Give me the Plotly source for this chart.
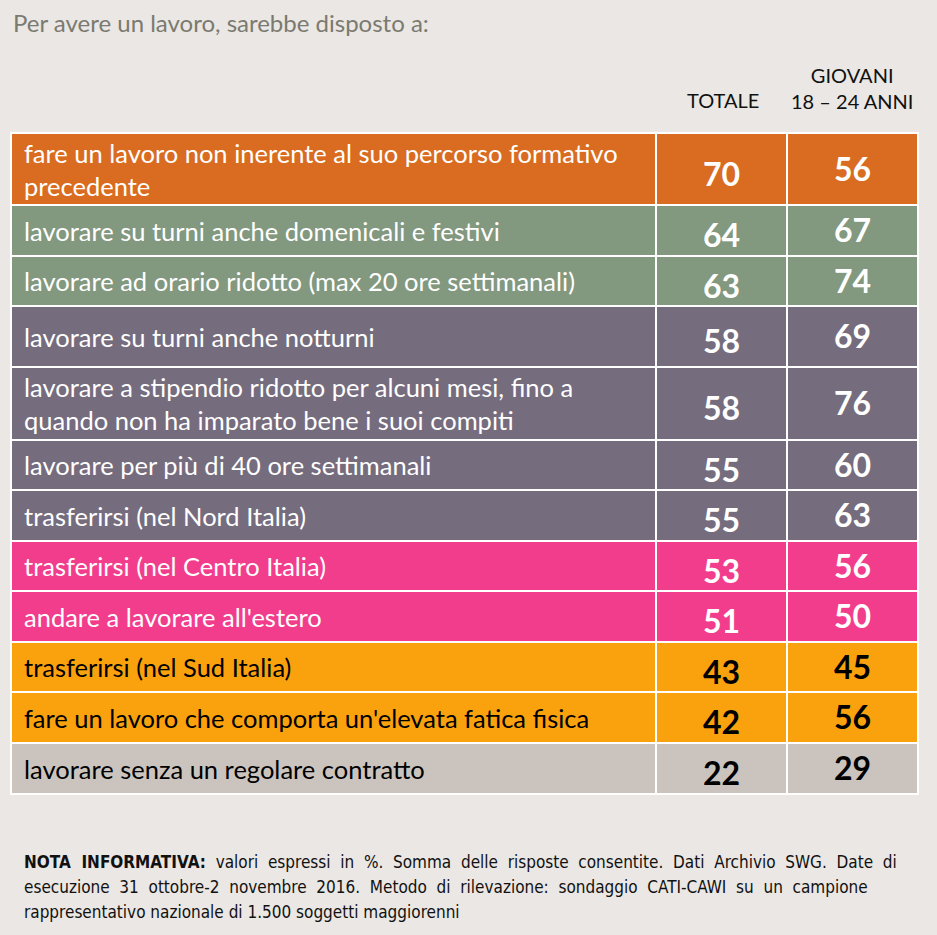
import plotly.graph_objects as go
import numpy as np

# ---- data ----
items = [
    "fare un lavoro non inerente al suo percorso formativo<br>precedente",
    "lavorare su turni anche domenicali e festivi",
    "lavorare ad orario ridotto (max 20 ore settimanali)",
    "lavorare su turni anche notturni",
    "lavorare a stipendio ridotto per alcuni mesi, fino a<br>quando non ha imparato bene i suoi compiti",
    "lavorare per più di 40 ore settimanali",
    "trasferirsi (nel Nord Italia)",
    "trasferirsi (nel Centro Italia)",
    "andare a lavorare all'estero",
    "trasferirsi (nel Sud Italia)",
    "fare un lavoro che comporta un'elevata fatica fisica",
    "lavorare senza un regolare contratto",
]
totale = [70, 64, 63, 58, 58, 55, 55, 53, 51, 43, 42, 22]
giovani = [56, 67, 74, 69, 76, 60, 63, 56, 50, 45, 56, 29]
groups = ["a", "b", "b", "c", "c", "c", "c", "d", "d", "e", "e", "f"]

# ---- styling ----
group_color = {"a": "#D96C20", "b": "#82987F", "c": "#756C7E",
               "d": "#F23C8C", "e": "#F9A20E", "f": "#CBC4BE"}
group_text = {"a": "white", "b": "white", "c": "white",
              "d": "white", "e": "black", "f": "black"}
row_heights = [72, 51, 50, 61, 73, 50, 51, 50, 51, 50, 51, 51]
table_top = 133
col_edges = [11, 656, 787, 918]
BG = "#EAE7E4"
FONT = "Lato"

tops = table_top + np.concatenate([[0], np.cumsum(row_heights)[:-1]])
centers_y = tops + np.array(row_heights) / 2
colors = [group_color[g] for g in groups]
tcolors = [group_text[g] for g in groups]

fig = go.Figure()
for c in range(3):
    x0, x1 = col_edges[c], col_edges[c + 1]
    fig.add_trace(go.Bar(
        x=[(x0 + x1) / 2] * len(items), width=[x1 - x0] * len(items),
        base=list(tops), y=row_heights,
        marker=dict(color=colors, line=dict(color="white", width=2)),
        hoverinfo="skip", showlegend=False))

for i in range(len(items)):
    fig.add_annotation(x=22, y=centers_y[i], text=items[i], xanchor="left", yanchor="middle",
                       showarrow=False, align="left",
                       font=dict(family=FONT, size=25.5, color=tcolors[i]))
    fig.add_annotation(x=(col_edges[1] + col_edges[2]) / 2, y=centers_y[i] + 4,
                       text="<b>%d</b>" % totale[i], showarrow=False,
                       font=dict(family=FONT, size=32, color=tcolors[i]))
    fig.add_annotation(x=(col_edges[2] + col_edges[3]) / 2, y=centers_y[i] - 1,
                       text="<b>%d</b>" % giovani[i], showarrow=False,
                       font=dict(family=FONT, size=32, color=tcolors[i]))

fig.add_annotation(x=11, y=22, text="Per avere un lavoro, sarebbe disposto a:", xanchor="left",
                   showarrow=False, font=dict(family=FONT, size=24, color="#7A7A70"))
fig.add_annotation(x=723, y=100, text="TOTALE", showarrow=False,
                   font=dict(family=FONT, size=20, color="#111111"))
fig.add_annotation(x=852, y=88, text="GIOVANI<br>18 – 24 ANNI", showarrow=False, align="center",
                   font=dict(family=FONT, size=20, color="#111111"))

notes = [
    "<b>NOTA INFORMATIVA:</b> valori espressi in %. Somma delle risposte consentite. Dati Archivio SWG. Date di",
    "esecuzione 31 ottobre-2 novembre 2016. Metodo di rilevazione: sondaggio CATI-CAWI su un campione",
    "rappresentativo nazionale di 1.500 soggetti maggiorenni",
]
justify = [True, True, False]
for k, t in enumerate(notes):
    if justify[k]:
        t = t.replace(" ", " \u00a0")
    fig.add_annotation(x=22, y=862 + k * 25, text=t, xanchor="left", showarrow=False,
                       font=dict(family="DejaVu Sans Condensed", size=17, color="#111111"))

fig.update_layout(
    width=937, height=935, margin=dict(l=0, r=0, t=0, b=0),
    paper_bgcolor=BG, plot_bgcolor=BG, barmode="overlay", bargap=0,
    xaxis=dict(range=[0, 937], visible=False, fixedrange=True),
    yaxis=dict(range=[935, 0], visible=False, fixedrange=True),
)
fig.write_html("out.html", config={"displayModeBar": False},
               post_script="document.body.style.margin='0';document.body.style.background='%s';" % BG)
